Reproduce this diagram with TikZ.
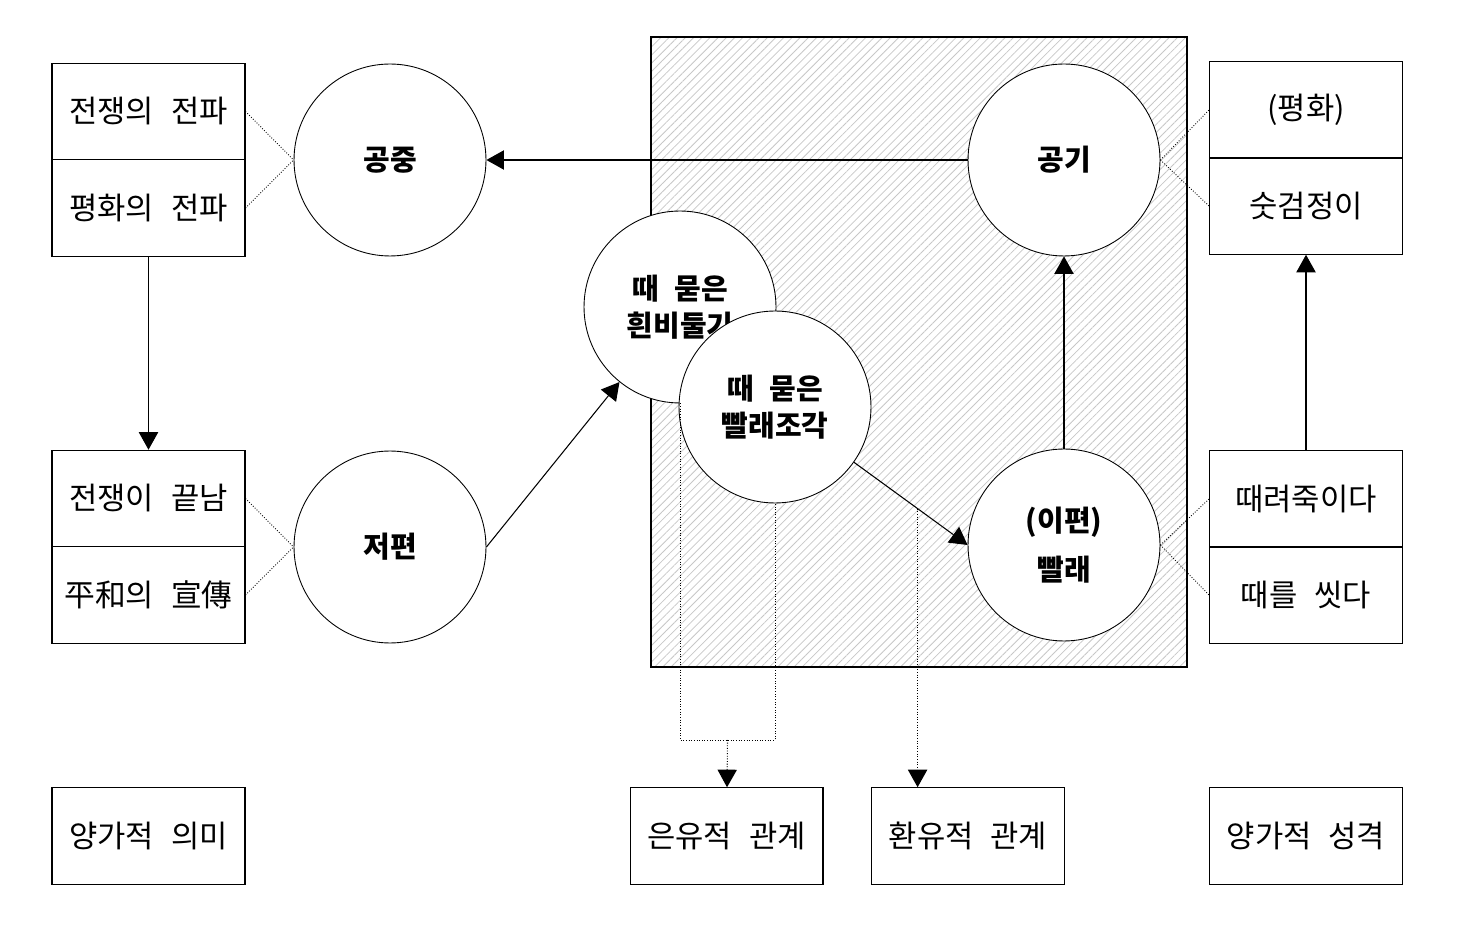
\documentclass[tikz,border=0pt]{standalone}
\usepackage{fontspec}
\setmainfont{Noto Sans CJK KR}
\usetikzlibrary{arrows.meta,patterns.meta}
\newcommand{\gp}{\hspace{0.55em}}
\tikzset{
  cell/.style={draw, line width=0.6pt, minimum width=3.86cm, minimum height=1.93cm,
    inner sep=0pt, font=\fontsize{17.5}{20}\selectfont},
  ball/.style={circle, draw, fill=white, line width=0.5pt, minimum size=3.84cm,
    inner sep=0pt, align=center, font=\bfseries\fontsize{16.5}{21}\selectfont},
  link/.style={-{Triangle[length=10pt,width=11pt]}, line width=0.6pt},
  hint/.style={densely dotted, line width=0.5pt},
}
\begin{document}
\begin{tikzpicture}[x=0.02cm, y=-0.02cm]
  \useasboundingbox (0,0) rectangle (1460,928);
  % hatched area
  \draw[line width=0.6pt, pattern={Lines[angle=45,distance=3.3pt,line width=0.45pt]},
    pattern color=black!22] (651,37) rectangle (1187,667);
  % left column
  \node[cell] (a1) at (148.5,111.5) {전쟁의\gp 전파};
  \node[cell] (a2) at (148.5,208) {평화의\gp 전파};
  \node[cell] (b1) at (148.5,498.5) {전쟁이\gp 끝남};
  \node[cell] (b2) at (148.5,595) {平和의\gp 宣傳};
  \node[cell] (c) at (148.5,836) {양가적\gp 의미};
  % right column
  \node[cell] (d1) at (1306,110) {(평화)};
  \node[cell] (d2) at (1306,206) {숫검정이};
  \node[cell] (e1) at (1306,499) {때려죽이다};
  \node[cell] (e2) at (1306,595) {때를\gp 씻다};
  \node[cell] (f) at (1306,836) {양가적\gp 성격};
  % bottom row
  \node[cell] (g) at (726.5,836) {은유적\gp 관계};
  \node[cell] (h) at (968,836) {환유적\gp 관계};
  % circles
  \node[ball] (sky) at (390,160) {공중};
  \node[ball] (far) at (390,547) {저편};
  \node[ball] (dove) at (680,307) {때\gp 묻은\\흰비둘기};
  \node[ball] (rag) at (775,407) {때\gp 묻은\\빨래조각};
  \node[ball] (air) at (1064,160) {공기};
  \node[ball] (wash) at (1064,545) {(이편)\\[7pt]빨래};
  % arrows
  \draw[link] (air) -- (sky);
  \draw[link] (wash) -- (air);
  \draw[link] (a2) -- (b1);
  \draw[link] (e1) -- (d2);
  \draw[link] (far.east) -- (dove);
  \draw[link] (rag.-35) -- (wash.west) coordinate[pos=0.56] (m);
  % dotted links
  \begin{scope}[hint]
    \draw (a1.east) -- (sky.west);
    \draw (a2.east) -- (sky.west);
    \draw (b1.east) -- (far.west);
    \draw (b2.east) -- (far.west);
    \draw (air.east) -- (d1.west);
    \draw (air.east) -- (d2.west);
    \draw (wash.east) -- (e1.west);
    \draw (wash.east) -- (e2.west);
    \coordinate (join) at (727.5,740);
    \draw (dove.south) |- (join) -| (rag.south);
    \draw[link] (join) -- (g);
    \draw[link] (m) -- (m |- h.north);
  \end{scope}
\end{tikzpicture}
\end{document}
